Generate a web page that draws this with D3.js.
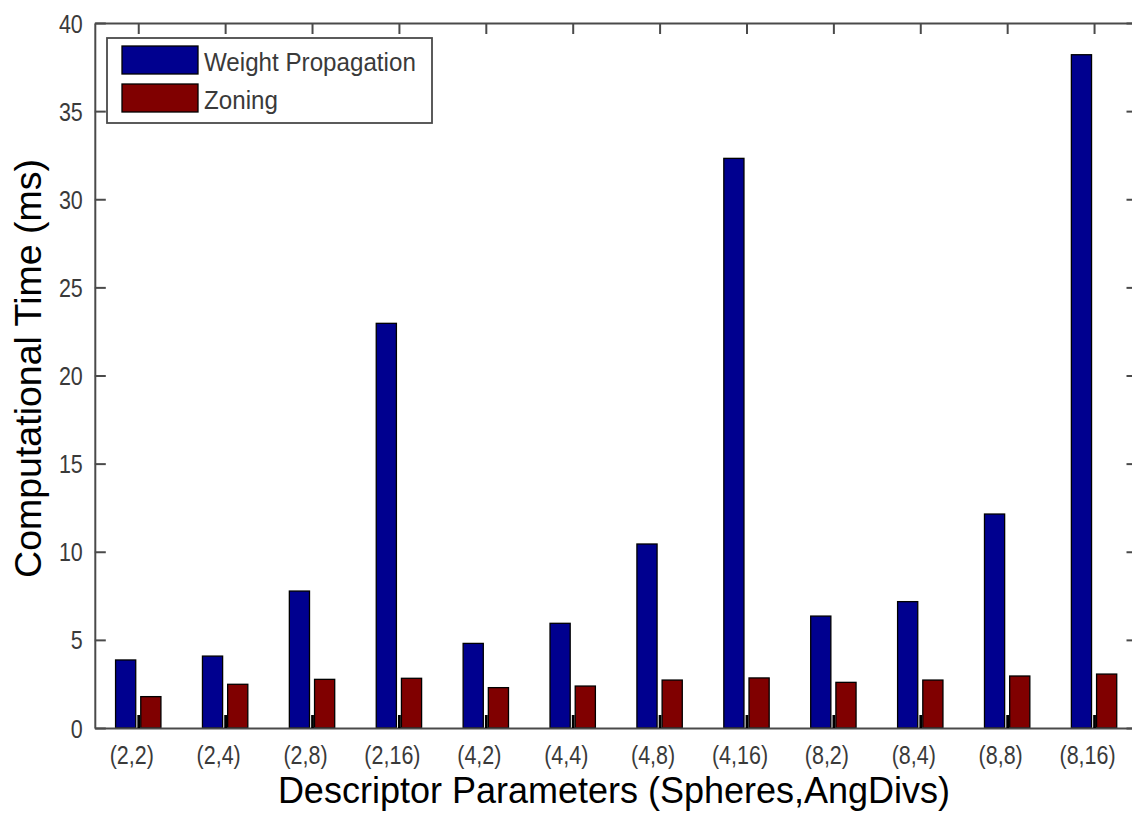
<!DOCTYPE html>
<html>
<head>
<meta charset="utf-8">
<script src="https://cdn.jsdelivr.net/npm/d3@7"></script>
<style>
  html, body { margin: 0; padding: 0; background: #fff; }
  svg { display: block; }
  text { font-family: "Liberation Sans", Arial, sans-serif; }
</style>
</head>
<body>
<svg id="chart" width="1132" height="813"></svg>
<script>
const categories = ["(2,2)", "(2,4)", "(2,8)", "(2,16)", "(4,2)", "(4,4)", "(4,8)", "(4,16)", "(8,2)", "(8,4)", "(8,8)", "(8,16)"];
const weightPropagation = [3.86, 4.08, 7.77, 22.96, 4.80, 5.94, 10.44, 32.32, 6.35, 7.17, 12.14, 38.2];
const zoning = [1.78, 2.48, 2.76, 2.82, 2.29, 2.38, 2.72, 2.84, 2.59, 2.72, 2.95, 3.06];
const seriesNames = ["Weight Propagation", "Zoning"];
const seriesColors = ["#00008f", "#800000"];
const yTicks = [0, 5, 10, 15, 20, 25, 30, 35, 40];

const svg = d3.select("#chart");
const L = 94.8, R = 1137.5, T = 23, B = 728;

const x = d3.scaleLinear().domain([0.5, categories.length + 0.5]).range([L, R]);
const y = d3.scaleLinear().domain([0, 40]).range([B, T]);
const unit = x(2) - x(1);
const barW = 0.232 * unit;
const offsets = [-0.145, 0.145];

const axisColor = "#4a4a4a";
const textColor = "#3a3a3a";
const sx = 0.86;   // horizontal condensing of tick label font

// bars
const series = [weightPropagation, zoning];
series.forEach((vals, si) => {
  svg.append("g").selectAll("rect").data(vals).join("rect")
    .attr("x", (d, i) => x(i + 1 + offsets[si]) - barW / 2)
    .attr("width", barW)
    .attr("y", d => y(d))
    .attr("height", d => y(0) - y(d))
    .attr("fill", seriesColors[si])
    .attr("stroke", "#000")
    .attr("stroke-width", 1.3);
});

const tickLen = 11;
const xTickVals = d3.range(1, categories.length + 1);

// bottom axis (ticks inward, drawn above bars)
const xAxisB = d3.axisBottom(x).tickValues(xTickVals).tickSizeInner(-13).tickSizeOuter(0)
  .tickFormat((d) => categories[d - 1]);
const gB = svg.append("g").attr("transform", `translate(0,${B})`).call(xAxisB);
gB.select(".domain").attr("stroke", axisColor).attr("stroke-width", 2);
gB.selectAll(".tick line").attr("stroke", "#000").attr("stroke-width", 2.8);
gB.selectAll(".tick text").attr("fill", textColor).attr("font-size", "25px")
  .attr("transform", `scale(${sx},1)`)
  .attr("x", -7 / sx).attr("dy", 0).attr("y", 36);

// top axis
const xAxisT = d3.axisTop(x).tickValues(xTickVals).tickSizeInner(-tickLen).tickSizeOuter(0).tickFormat("");
const gT = svg.append("g").attr("transform", `translate(0,${T})`).call(xAxisT);
gT.select(".domain").attr("stroke", axisColor).attr("stroke-width", 2);
gT.selectAll(".tick line").attr("stroke", axisColor).attr("stroke-width", 2);

// left axis
const yAxisL = d3.axisLeft(y).tickValues(yTicks).tickSizeInner(-tickLen).tickSizeOuter(0);
const gL = svg.append("g").attr("transform", `translate(${L},0)`).call(yAxisL);
gL.select(".domain").attr("stroke", axisColor).attr("stroke-width", 2);
gL.selectAll(".tick line").attr("stroke", axisColor).attr("stroke-width", 2);
gL.selectAll(".tick text").attr("fill", textColor).attr("font-size", "25px")
  .attr("transform", `scale(${sx},1)`)
  .attr("x", -12 / sx).attr("dy", "0.36em");

// right axis
const yAxisR = d3.axisRight(y).tickValues(yTicks).tickSizeInner(-tickLen).tickSizeOuter(0).tickFormat("");
const gR = svg.append("g").attr("transform", `translate(${R},0)`).call(yAxisR);
gR.select(".domain").attr("stroke", axisColor).attr("stroke-width", 2);
gR.selectAll(".tick line").attr("stroke", axisColor).attr("stroke-width", 2);

// axis titles
svg.append("text")
  .attr("x", 614).attr("y", 803)
  .attr("text-anchor", "middle")
  .attr("font-size", "36px").attr("fill", "#000")
  .text("Descriptor Parameters (Spheres,AngDivs)");

svg.append("text")
  .attr("transform", "translate(41,368.5) rotate(-90)")
  .attr("text-anchor", "middle")
  .attr("font-size", "37.5px").attr("fill", "#000")
  .text("Computational Time (ms)");

// legend
const lg = svg.append("g");
lg.append("rect").attr("x", 107).attr("y", 38).attr("width", 325).attr("height", 85)
  .attr("fill", "#fff").attr("stroke", axisColor).attr("stroke-width", 1.8);
seriesNames.forEach((name, i) => {
  const yy = 46 + i * 38;
  lg.append("rect").attr("x", 122).attr("y", yy).attr("width", 76).attr("height", 28)
    .attr("fill", seriesColors[i]).attr("stroke", "#000").attr("stroke-width", 1.3);
  lg.append("text").attr("x", 204).attr("y", yy + 25)
    .attr("font-size", "26px").attr("fill", textColor)
    .attr("transform", `translate(204,0) scale(0.93,1) translate(-204,0)`)
    .text(name);
});
</script>
</body>
</html>
